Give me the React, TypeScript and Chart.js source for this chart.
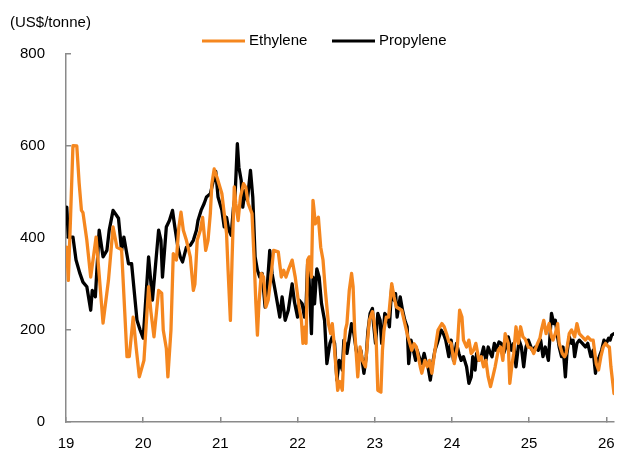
import { useEffect, useRef } from 'react';
import { Chart, registerables } from 'chart.js';

Chart.register(...registerables);

const unitLabel = '(US$/tonne)';
const seriesNames = ['Ethylene', 'Propylene'];
const seriesColors = ['#F5871F', '#000000'];
const yTickValues = [0, 200, 400, 600, 800];
const xTickValues = [19, 20, 21, 22, 23, 24, 25, 26];
const xTickLabels = ['19', '20', '21', '22', '23', '24', '25', '26'];

const ethyleneDates = [
  19.01, 19.03, 19.06, 19.09, 19.14, 19.17, 19.2, 19.22, 19.27, 19.32,
  19.39, 19.43, 19.48, 19.55, 19.61, 19.66, 19.72, 19.76, 19.79, 19.82,
  19.87, 19.91, 19.95, 19.97, 20.01, 20.07, 20.1, 20.14, 20.2, 20.24,
  20.26, 20.3, 20.32, 20.36, 20.39, 20.43, 20.46, 20.49, 20.52, 20.56,
  20.61, 20.65, 20.67, 20.7, 20.74, 20.77, 20.81, 20.84, 20.87, 20.89,
  20.92, 20.96, 21.02, 21.05, 21.08, 21.1, 21.13, 21.15, 21.18, 21.2,
  21.23, 21.26, 21.3, 21.33, 21.36, 21.41, 21.44, 21.46, 21.48, 21.5,
  21.53, 21.56, 21.59, 21.62, 21.66, 21.69, 21.75, 21.79, 21.82, 21.85,
  21.88, 21.93, 21.97, 22.02, 22.05, 22.07, 22.09, 22.11, 22.13, 22.15,
  22.18, 22.2, 22.21, 22.23, 22.27, 22.3, 22.33, 22.36, 22.4, 22.43,
  22.45, 22.47, 22.49, 22.52, 22.55, 22.58, 22.6, 22.62, 22.64, 22.67,
  22.7, 22.72, 22.74, 22.76, 22.78, 22.81, 22.84, 22.88, 22.9, 22.93,
  22.97, 22.99, 23.02, 23.04, 23.08, 23.1, 23.12, 23.15, 23.18, 23.22,
  23.25, 23.28, 23.35, 23.39, 23.43, 23.48, 23.51, 23.54, 23.59, 23.61,
  23.65, 23.68, 23.71, 23.74, 23.78, 23.82, 23.87, 23.9, 23.93, 23.96,
  23.99, 24.03, 24.07, 24.1, 24.13, 24.15, 24.19, 24.22, 24.25, 24.28,
  24.31, 24.35, 24.38, 24.41, 24.44, 24.47, 24.5, 24.53, 24.56, 24.6,
  24.63, 24.66, 24.69, 24.73, 24.75, 24.78, 24.8, 24.83, 24.86, 24.89,
  24.92, 24.95, 24.99, 25.03, 25.06, 25.11, 25.14, 25.16, 25.19, 25.22,
  25.26, 25.29, 25.31, 25.34, 25.37, 25.39, 25.43, 25.46, 25.48, 25.52,
  25.55, 25.59, 25.62, 25.65, 25.69, 25.73, 25.76, 25.8, 25.83, 25.87,
  25.9, 25.93, 25.96, 25.99, 26.03, 26.04, 26.06, 26.1,
];

const ethyleneValues = [
  380, 308, 450, 601, 600, 520, 460, 455, 395, 315,
  402, 320, 215, 308, 424, 380, 375, 243, 142, 142,
  228, 160, 98, 110, 134, 294, 240, 185, 286, 280,
  200, 160, 98, 200, 366, 352, 420, 456, 417, 395,
  359, 286, 300, 395, 417, 445, 373, 395, 453, 518,
  550, 530, 496, 453, 410, 330, 221, 344, 511, 475,
  438, 489, 518, 510, 475, 453, 344, 258, 189, 258,
  323, 315, 250, 265, 323, 373, 370, 315, 330, 315,
  330, 352, 315, 250, 221, 171, 206, 171, 352, 359,
  315, 482, 467, 431, 445, 380, 352, 286, 214, 192,
  214, 178, 134, 69, 88, 69, 149, 200, 214, 286,
  323, 294, 200, 149, 98, 163, 134, 120, 163, 221,
  240, 221, 171, 69, 65, 156, 200, 228, 228, 301,
  272, 250, 243, 214, 185, 156, 170, 163, 120, 106,
  134, 120, 134, 106, 156, 200, 214, 207, 192, 175,
  171, 127, 163, 243, 228, 178, 163, 178, 149, 156,
  171, 134, 142, 120, 134, 98, 77, 98, 120, 156,
  163, 134, 192, 171, 84, 127, 149, 207, 171, 207,
  185, 180, 163, 160, 149, 171, 182, 200, 221, 192,
  214, 185, 178, 192, 214, 171, 149, 142, 149, 192,
  200, 185, 214, 192, 185, 178, 185, 178, 178, 127,
  113, 142, 163, 171, 163, 163, 120, 62,
];

const propyleneDates = [
  19.01, 19.03, 19.09, 19.13, 19.18, 19.22, 19.27, 19.32, 19.34, 19.38,
  19.43, 19.48, 19.53, 19.56, 19.61, 19.68, 19.72, 19.75, 19.81, 19.85,
  19.92, 19.96, 20.0, 20.07, 20.12, 20.2, 20.23, 20.25, 20.3, 20.34,
  20.38, 20.41, 20.45, 20.48, 20.51, 20.56, 20.61, 20.65, 20.69, 20.71,
  20.75, 20.79, 20.82, 20.87, 20.91, 20.94, 20.97, 21.02, 21.05, 21.08,
  21.11, 21.14, 21.17, 21.19, 21.22, 21.24, 21.27, 21.29, 21.32, 21.35,
  21.39, 21.42, 21.45, 21.48, 21.51, 21.54, 21.58, 21.61, 21.64, 21.67,
  21.71, 21.74, 21.77, 21.8, 21.84, 21.88, 21.93, 21.96, 22.0, 22.02,
  22.06, 22.09, 22.11, 22.13, 22.15, 22.18, 22.2, 22.22, 22.25, 22.28,
  22.31, 22.35, 22.38, 22.42, 22.45, 22.48, 22.51, 22.54, 22.58, 22.6,
  22.62, 22.64, 22.7, 22.73, 22.76, 22.79, 22.82, 22.86, 22.89, 22.91,
  22.94, 22.97, 22.98, 23.01, 23.04, 23.07, 23.09, 23.11, 23.13, 23.17,
  23.19, 23.2, 23.22, 23.25, 23.27, 23.29, 23.33, 23.36, 23.39, 23.42,
  23.44, 23.47, 23.5, 23.53, 23.55, 23.59, 23.61, 23.64, 23.67, 23.69,
  23.72, 23.75, 23.78, 23.81, 23.86, 23.89, 23.92, 23.94, 23.96, 23.99,
  24.02, 24.06, 24.09, 24.12, 24.15, 24.19, 24.22, 24.25, 24.27, 24.3,
  24.32, 24.35, 24.38, 24.41, 24.44, 24.47, 24.5, 24.52, 24.55, 24.57,
  24.61, 24.64, 24.67, 24.7, 24.73, 24.77, 24.8, 24.83, 24.87, 24.9,
  24.93, 24.96, 24.99, 25.04, 25.08, 25.12, 25.15, 25.18, 25.21, 25.25,
  25.27, 25.29, 25.32, 25.34, 25.37, 25.39, 25.42, 25.44, 25.47, 25.49,
  25.52, 25.55, 25.57, 25.59, 25.62, 25.65, 25.69, 25.73, 25.76, 25.8,
  25.83, 25.86, 25.89, 25.91, 25.94, 25.97, 26.0, 26.03, 26.05, 26.07,
  26.1,
];

const propyleneValues = [
  467, 402, 402, 352, 323, 304, 294, 243, 286, 272,
  417, 359, 373, 417, 460, 443, 373, 402, 344, 344,
  221, 200, 182, 359, 265, 417, 395, 315, 424, 438,
  460, 424, 380, 359, 348, 380, 384, 395, 417, 438,
  460, 475, 489, 496, 525, 545, 489, 460, 424, 445,
  417, 406, 467, 489, 605, 554, 525, 467, 503, 482,
  547, 489, 359, 330, 315, 323, 250, 301, 373, 323,
  286, 257, 228, 272, 221, 243, 300, 261, 228, 265,
  257, 228, 250, 344, 308, 192, 315, 257, 333, 315,
  258, 221, 127, 171, 185, 171, 91, 134, 113, 178,
  171, 149, 214, 192, 156, 134, 156, 106, 142, 195,
  236, 247, 221, 171, 236, 221, 171, 192, 236, 228,
  207, 236, 294, 265, 279, 228, 272, 243, 221, 207,
  127, 178, 156, 134, 156, 134, 127, 149, 127, 120,
  91, 127, 156, 171, 200, 192, 178, 160, 142, 178,
  134, 171, 149, 134, 142, 120, 84, 98, 142, 113,
  149, 134, 142, 163, 134, 163, 149, 142, 171, 156,
  174, 171, 149, 163, 185, 156, 171, 120, 178, 163,
  120, 163, 178, 156, 163, 156, 178, 142, 163, 134,
  185, 236, 214, 221, 185, 163, 142, 163, 98, 149,
  185, 171, 178, 142, 171, 178, 171, 163, 171, 142,
  156, 106, 134, 142, 156, 178, 171, 182, 178, 189,
  192,
];

const FONT = '"Liberation Sans", Arial, Helvetica, sans-serif';
const AXIS_COLOR = '#8a8a8a';

const overlayPlugin = {
  id: 'overlayText',
  afterDraw(chart: any) {
    const ctx = chart.ctx;
    ctx.save();
    ctx.font = `15px ${FONT}`;
    ctx.fillStyle = '#000';
    ctx.textBaseline = 'middle';
    ctx.textAlign = 'left';
    ctx.fillText(unitLabel, 10, 23);
    const items = [
      { x1: 202, x2: 245, tx: 249 },
      { x1: 332, x2: 375, tx: 379 },
    ];
    const ly = 41;
    items.forEach((it, i) => {
      ctx.strokeStyle = seriesColors[i];
      ctx.lineWidth = 3;
      ctx.beginPath();
      ctx.moveTo(it.x1, ly);
      ctx.lineTo(it.x2, ly);
      ctx.stroke();
      ctx.fillStyle = '#000';
      ctx.fillText(seriesNames[i], it.tx, ly);
    });
    ctx.restore();
  },
};

export default function App() {
  const canvasRef = useRef<HTMLCanvasElement | null>(null);

  useEffect(() => {
    if (!canvasRef.current) return;
    const chart = new Chart(canvasRef.current, {
      type: 'line',
      data: {
        datasets: [
          {
            label: seriesNames[0],
            data: ethyleneDates.map((d, i) => ({ x: d, y: ethyleneValues[i] })),
            borderColor: seriesColors[0],
            backgroundColor: seriesColors[0],
            borderWidth: 3.3,
            pointRadius: 0,
            tension: 0,
            borderJoinStyle: 'round',
            borderCapStyle: 'round',
          },
          {
            label: seriesNames[1],
            data: propyleneDates.map((d, i) => ({ x: d, y: propyleneValues[i] })),
            borderColor: seriesColors[1],
            backgroundColor: seriesColors[1],
            borderWidth: 3.3,
            pointRadius: 0,
            tension: 0,
            borderJoinStyle: 'round',
            borderCapStyle: 'round',
          },
        ],
      },
      options: {
        animation: false,
        responsive: false,
        maintainAspectRatio: false,
        devicePixelRatio: 1,
        layout: { padding: { top: 54, right: 3, left: 0, bottom: 0 } },
        plugins: {
          legend: { display: false },
          title: { display: false },
          tooltip: { enabled: false },
        },
        scales: {
          x: {
            type: 'linear',
            min: 19,
            max: 26.1,
            afterBuildTicks: (scale: any) => {
              scale.ticks = xTickValues.map((v) => ({ value: v }));
            },
            afterFit: (scale: any) => {
              scale.height = 30;
              scale.paddingLeft = 0;
              scale.paddingRight = 0;
            },
            ticks: {
              autoSkip: false,
              maxRotation: 0,
              padding: 18,
              color: '#000',
              font: { family: FONT, size: 15 },
              callback: (value: any) => {
                const idx = xTickValues.indexOf(Math.round(Number(value)));
                return idx >= 0 ? xTickLabels[idx] : '';
              },
            },
            grid: {
              drawOnChartArea: false,
              drawTicks: true,
              tickLength: -5,
              color: AXIS_COLOR,
              lineWidth: 1.5,
            },
            border: { display: true, color: AXIS_COLOR, width: 1.5 },
          },
          y: {
            type: 'linear',
            min: 0,
            max: 800,
            afterBuildTicks: (scale: any) => {
              scale.ticks = yTickValues.map((v) => ({ value: v }));
            },
            afterFit: (scale: any) => {
              scale.width = 66;
              scale.paddingTop = 0;
              scale.paddingBottom = 0;
            },
            ticks: {
              padding: 26,
              color: '#000',
              font: { family: FONT, size: 15 },
              callback: (value: any) => String(value),
            },
            grid: {
              drawOnChartArea: false,
              drawTicks: true,
              tickLength: -5,
              color: AXIS_COLOR,
              lineWidth: 1.5,
            },
            border: { display: true, color: AXIS_COLOR, width: 1.5 },
          },
        },
      },
      plugins: [overlayPlugin],
    } as any);
    return () => chart.destroy();
  }, []);

  return (
    <div style={{ position: 'absolute', left: 0, top: 0, width: 617, height: 452, background: '#fff' }}>
      <canvas ref={canvasRef} width={617} height={452} style={{ width: 617, height: 452, display: 'block' }} />
    </div>
  );
}
